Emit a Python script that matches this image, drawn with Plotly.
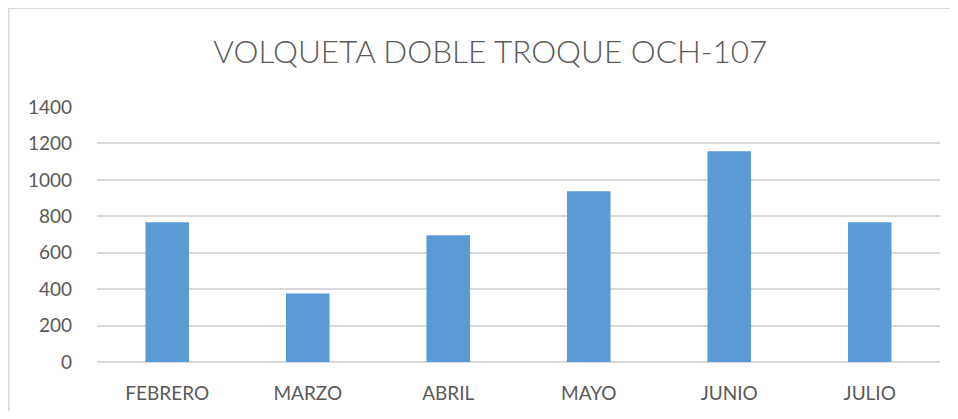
import plotly.graph_objects as go

months = ["FEBRERO", "MARZO", "ABRIL", "MAYO", "JUNIO", "JULIO"]
values = [767, 376, 696, 937, 1157, 767]
y_ticks = [0, 200, 400, 600, 800, 1000, 1200, 1400]

fig = go.Figure()

fig.add_trace(go.Bar(
    x=months,
    y=values,
    marker=dict(color="#5b9bd5", line=dict(width=0)),
    name="Horas",
))

# chart frame (only top and left edge visible in the original)
fig.add_shape(type="line", xref="paper", yref="paper",
              x0=-0.1056, x1=1.03, y0=1.388, y1=1.388,
              line=dict(color="#d9d9d9", width=2))
fig.add_shape(type="line", xref="paper", yref="paper",
              x0=-0.1050, x1=-0.1050, y0=1.388, y1=-0.25,
              line=dict(color="#d9d9d9", width=2))

fig.update_layout(
    width=942,
    height=403,
    margin=dict(l=89, r=10, t=99, b=49),
    paper_bgcolor="white",
    plot_bgcolor="white",
    bargap=0.69,
    showlegend=False,
    font=dict(family="Lato", color="#595959", size=19),
    title=dict(
        text="VOLQUETA DOBLE TROQUE OCH-107",
        x=0.512, xanchor="center",
        y=0.891, yanchor="middle",
        font=dict(family="Lato", size=31.5, color="#595959", weight=300),
    ),
    xaxis=dict(
        showgrid=False,
        showline=False,
        ticks="",
        ticklabelstandoff=18,
        automargin=False,
    ),
    yaxis=dict(
        range=[0, 1400],
        tickvals=y_ticks,
        showgrid=True,
        gridcolor="#d9d9d9",
        gridwidth=1.5,
        zeroline=True,
        zerolinecolor="#d9d9d9",
        zerolinewidth=1.5,
        ticks="",
        ticklabelstandoff=24,
        automargin=False,
    ),
)

fig.write_html("out.html")
